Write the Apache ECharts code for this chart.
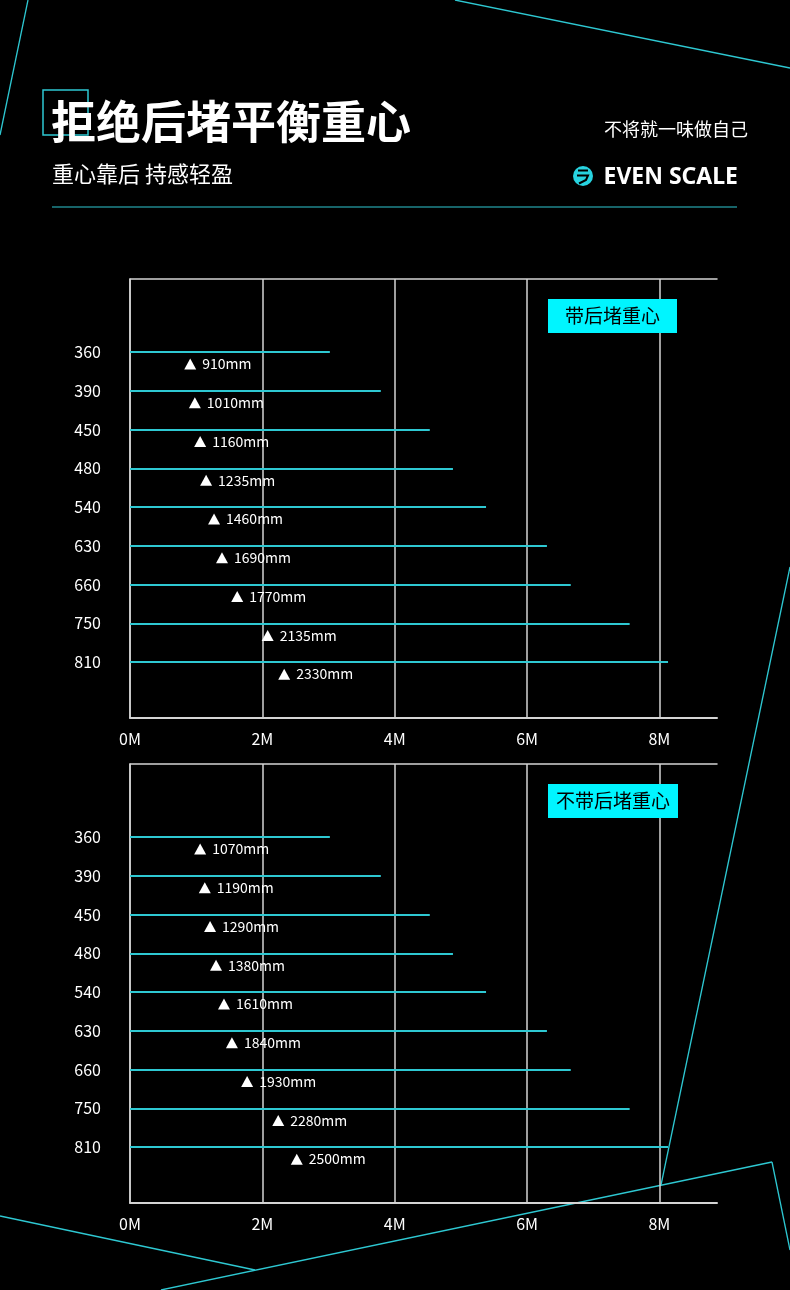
<!DOCTYPE html>
<html>
<head>
<meta charset="utf-8">
<script src="https://cdn.jsdelivr.net/npm/echarts@6/dist/echarts.min.js"></script>
<style>
  html, body { margin: 0; padding: 0; background: #000; }
  #main { width: 790px; height: 1290px; }
</style>
</head>
<body>
<div id="main"></div>
<script>
// data
var sizes = ['360', '390', '450', '480', '540', '630', '660', '750', '810'];
var lineLen = [3.02, 3.79, 4.53, 4.88, 5.38, 6.30, 6.66, 7.55, 8.13];   // M
// triangle positions (M) and their printed labels (mm)
var withPlugPos = [0.91, 0.98, 1.06, 1.15, 1.27, 1.39, 1.62, 2.08, 2.33];
var withPlug = [910, 1010, 1160, 1235, 1460, 1690, 1770, 2135, 2330];
var withoutPlugPos = [1.06, 1.13, 1.21, 1.30, 1.42, 1.54, 1.77, 2.24, 2.52];
var withoutPlug = [1070, 1190, 1290, 1380, 1610, 1840, 1930, 2280, 2500];
var legendNames = ['带后堵重心', '不带后堵重心'];

var CYAN = '#2ec8d2';
var GRID = '#d4d4d4';
var FONT = '"Noto Sans CJK SC", "Noto Sans", sans-serif';

var chart = echarts.init(document.getElementById('main'));

var gridTops = [279, 764];
var grids = [], xAxes = [], yAxes = [], series = [], titles = [];

gridTops.forEach(function(top, g){
	grids.push({ left: 130, top: top, width: 587, height: 439 });
	// bottom axis with labels
	xAxes.push({
		gridIndex: g, type: 'value', position: 'bottom',
		min: 0, max: 8.87, interval: 2,
		axisLine: { show: true, onZero: false, lineStyle: { color: GRID, width: 2 } },
		axisTick: { show: false },
		splitLine: { show: true, showMaxLine: false, lineStyle: { color: GRID, width: 1.5 } },
		axisLabel: {
			color: '#fff', fontSize: 16, fontFamily: FONT, margin: 13,
			showMaxLabel: false,
			formatter: function(v){ return v + 'M'; }
		}
	});
	// top border
	xAxes.push({
		gridIndex: g, type: 'value', position: 'top',
		min: 0, max: 8.87,
		axisLine: { show: true, onZero: false, lineStyle: { color: GRID, width: 1.5 } },
		axisTick: { show: false },
		splitLine: { show: false },
		axisLabel: { show: false }
	});
	yAxes.push({
		gridIndex: g, type: 'value', inverse: true,
		min: -1.88, max: 9.44,
		axisLine: { show: true, onZero: false, lineStyle: { color: GRID, width: 1.5 } },
		axisTick: { show: false },
		splitLine: { show: false },
		axisLabel: {
			customValues: sizes.map(function(s, i){ return i; }),
			formatter: function(v){ return sizes[v]; },
			color: '#fff', fontSize: 16, fontFamily: FONT, margin: 29
		}
	});

	var mm = g === 0 ? withPlug : withoutPlug;
	var pos = g === 0 ? withPlugPos : withoutPlugPos;
	series.push({
		type: 'lines',
		coordinateSystem: 'cartesian2d',
		xAxisIndex: g * 2, yAxisIndex: g,
		polyline: false,
		silent: true,
		lineStyle: { color: CYAN, width: 2, opacity: 1 },
		data: lineLen.map(function(v, i){ return { coords: [[0, i], [v, i]] }; })
	});
	series.push({
		type: 'scatter',
		xAxisIndex: g * 2, yAxisIndex: g,
		symbol: 'triangle',
		symbolSize: [12, 11],
		itemStyle: { color: '#fff', opacity: 1 },
		label: {
			show: true, position: 'right', distance: 6,
			color: '#fff', fontSize: 14, fontFamily: FONT,
			formatter: function(p){ return mm[p.dataIndex] + 'mm'; }
		},
		data: pos.map(function(v, i){ return [v, i + 0.31]; })
	});

	titles.push({
		text: legendNames[g],
		left: 548, top: top + 20,
		backgroundColor: '#00f5ff',
		padding: g === 0 ? [6, 17, 6, 17] : [6, 8, 6, 8],
		textStyle: { color: '#000', fontSize: 19, fontWeight: 'normal', fontFamily: FONT, lineHeight: 22 }
	});
});

function seg(x1, y1, x2, y2){
	return { type: 'line', silent: true, shape: { x1: x1, y1: y1, x2: x2, y2: y2 },
		style: { stroke: CYAN, lineWidth: 1.3 } };
}

var option = {
	backgroundColor: '#000',
	animation: false,
	title: titles,
	grid: grids,
	xAxis: xAxes,
	yAxis: yAxes,
	series: series,
	graphic: [
		// decorative lines
		seg(28, 0, 0, 135),
		seg(455, 0, 790, 68),
		seg(790, 567, 661, 1185),
		seg(0, 1216, 255, 1270),
		seg(161, 1290, 772, 1162),
		seg(772, 1162, 790, 1250),
		// header
		{ type: 'rect', shape: { x: 43, y: 90, width: 45, height: 45 },
			style: { fill: 'none', stroke: CYAN, lineWidth: 1.5 } },
		{ type: 'text', x: 51, y: 122,
			style: { text: '拒绝后堵平衡重心', fill: '#fff', font: 'bold 45px ' + FONT,
				textAlign: 'left', textVerticalAlign: 'middle', align: 'left', verticalAlign: 'middle' } },
		{ type: 'text', x: 52, y: 174,
			style: { text: '重心靠后 持感轻盈', fill: '#fff', font: '22px ' + FONT,
				textAlign: 'left', textVerticalAlign: 'middle', align: 'left', verticalAlign: 'middle' } },
		{ type: 'text', x: 748, y: 129,
			style: { text: '不将就一味做自己', fill: '#fff', font: '18px ' + FONT,
				textAlign: 'right', textVerticalAlign: 'middle', align: 'right', verticalAlign: 'middle' } },
		{ type: 'circle', shape: { cx: 583, cy: 176, r: 10 }, style: { fill: '#27d3e0' } },
		{ type: 'polyline', shape: { points: [[578, 170.5], [588, 170.5]] },
			style: { stroke: '#000', lineWidth: 2, fill: 'none' } },
		{ type: 'polyline', shape: { points: [[577, 175.5], [588, 175.5], [586, 180], [579, 183.5]] },
			style: { stroke: '#000', lineWidth: 2, fill: 'none' } },
		{ type: 'text', x: 738, y: 177,
			style: { text: 'EVEN SCALE', fill: '#fff', font: 'bold 23px "Noto Sans", sans-serif',
				textAlign: 'right', textVerticalAlign: 'middle', align: 'right', verticalAlign: 'middle' } },
		{ type: 'line', shape: { x1: 52, y1: 207, x2: 737, y2: 207 },
			style: { stroke: CYAN, lineWidth: 1.2 } }
	]
};

chart.setOption(option);
</script>
</body>
</html>
